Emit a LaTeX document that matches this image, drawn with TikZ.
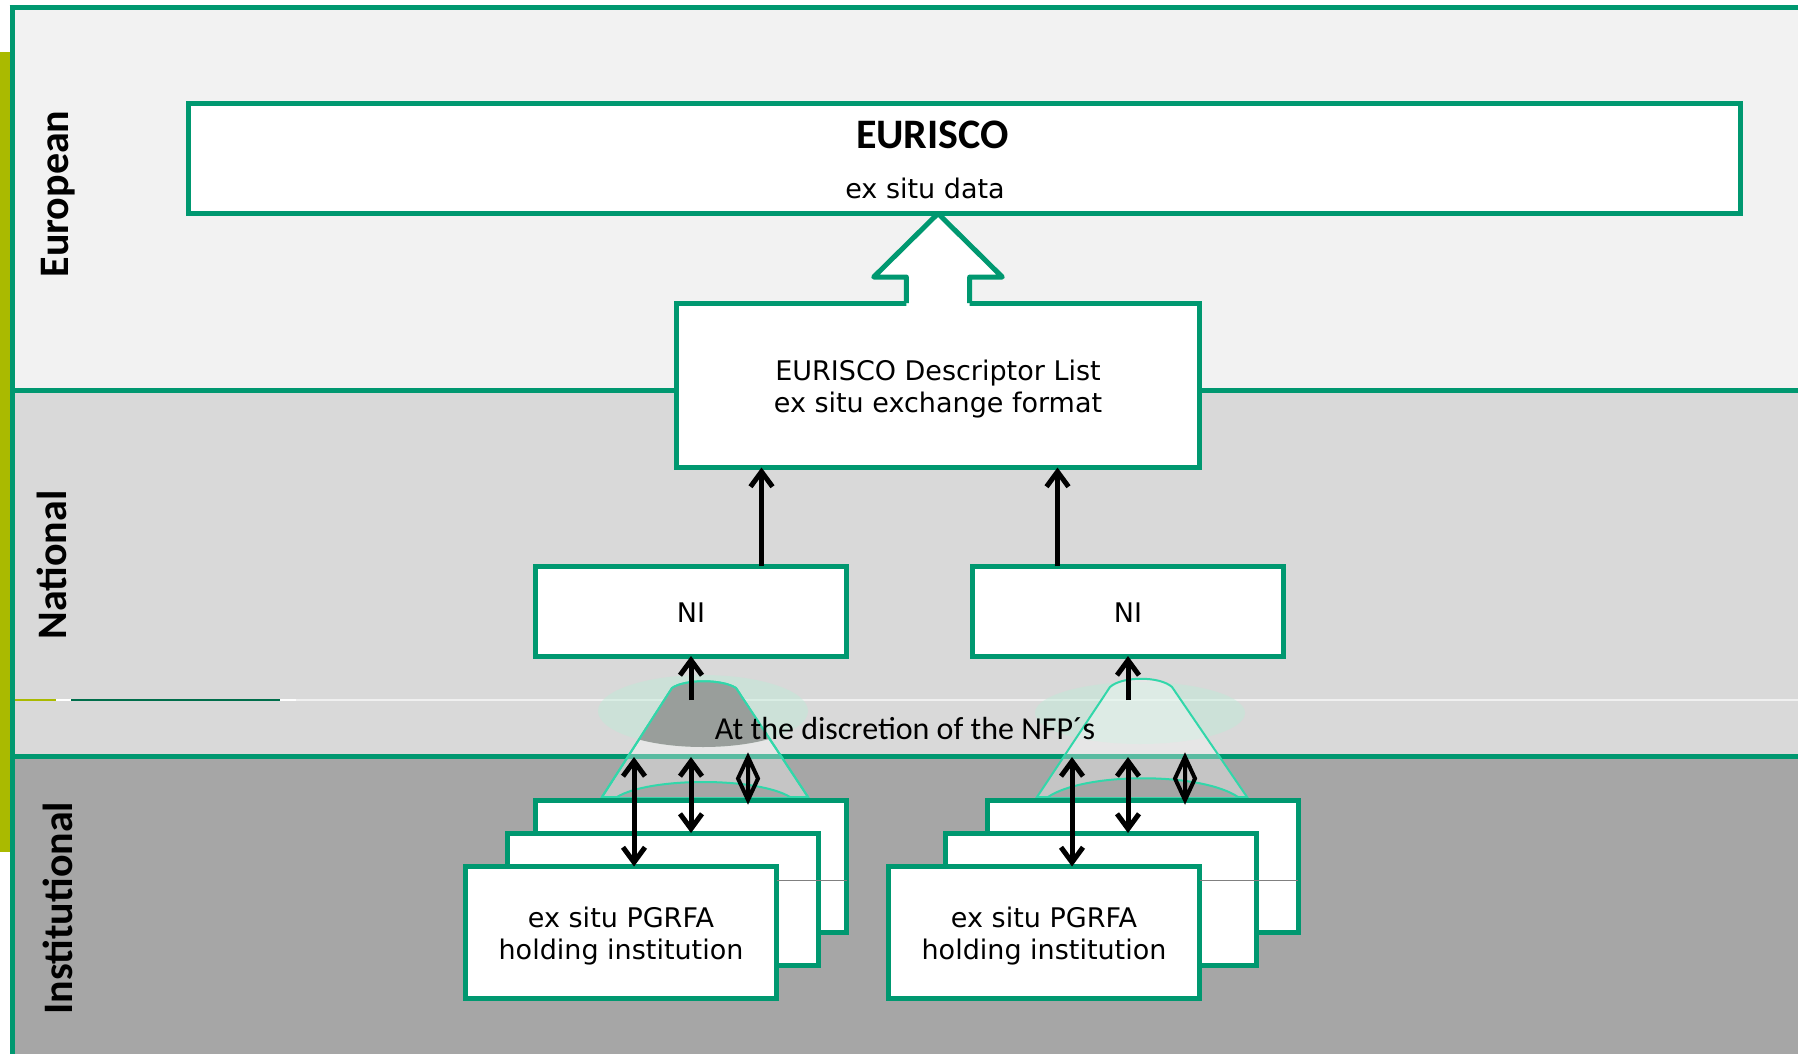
\documentclass[tikz,border=0pt]{standalone}
\usepackage{fontspec}
\newfontfamily\boxfont{DejaVu Sans}
\newfontfamily\labelfont{Carlito}
\usetikzlibrary{calc,arrows.meta}

\definecolor{frameGreen}{RGB}{0,152,112}
\definecolor{barYellow}{RGB}{170,186,0}
\definecolor{darkLine}{RGB}{0,110,75}
\definecolor{euroBand}{RGB}{242,242,242}
\definecolor{natBand}{RGB}{217,217,217}
\definecolor{instBand}{RGB}{166,166,166}
\definecolor{coneCyan}{RGB}{50,215,170}
\definecolor{coneDark}{RGB}{153,158,155}
\definecolor{coneGlow}{RGB}{190,235,215}

\begin{document}
\begin{tikzpicture}[every node/.style={outer sep=0pt,inner sep=0pt},>={Straight Barb[length=15pt,width=22pt]}]

\tikzstyle{box}=[draw=frameGreen,line width=5pt,fill=white]
\tikzstyle{inst}=[box,minimum width=311pt,minimum height=132pt]
\tikzstyle{boxtext}=[font=\boxfont\fontsize{27}{32}\selectfont,align=center]
\tikzstyle{sidelabel}=[rotate=90,anchor=base,font=\labelfont\bfseries\fontsize{42}{50}\selectfont]
\tikzstyle{bandline}=[draw=frameGreen,line width=5pt]
\tikzstyle{link}=[line width=5pt,black]
\tikzstyle{diamondlink}=[line width=4pt,black,line join=miter]
\tikzstyle{cone}=[fill=white,fill opacity=.35,draw=coneCyan,line width=2pt]
\tikzstyle{glow}=[fill=coneGlow,fill opacity=.45]

\useasboundingbox (0,0) rectangle (1798pt,-1054pt);
\fill[white] (0,0) rectangle (1798pt,-1054pt);

\fill[euroBand] (12pt,-8pt) rectangle (1798pt,-390pt);
\fill[natBand] (12pt,-390pt) rectangle (1798pt,-756pt);
\fill[instBand] (12pt,-756pt) rectangle (1798pt,-1054pt);
\fill[barYellow] (0,-52pt) rectangle (9.5pt,-852pt);

\coordinate (nfp) at (0,-700pt);
\coordinate (natinst) at (0,-757pt);

\draw[line width=1.2pt,white!94!black] (14pt,-700pt) -- (1798pt,-700pt);
\draw[line width=1.2pt,barYellow] (14pt,-700pt) -- (56pt,-700pt);
\draw[line width=1.2pt,white] (56pt,-700pt) -- (71pt,-700pt);
\draw[line width=1.2pt,darkLine] (71pt,-700pt) -- (280pt,-700pt);
\draw[line width=1.2pt,white] (280pt,-700pt) -- (296pt,-700pt);

\draw[bandline] (9.5pt,-8pt) -- (1798pt,-8pt);
\draw[bandline] (12pt,-5.5pt) -- (12pt,-1054pt);
\draw[bandline] (12pt,-390.5pt) -- (1798pt,-390.5pt);
\draw[bandline] (12pt,-756pt) -- (1798pt,-756pt);

\node[sidelabel] (european) at (68pt,-194pt) {European};
\node[sidelabel] (national) at (66pt,-565pt) {National};
\node[sidelabel] (institutional) at (72pt,-908pt) {Institutional};

\fill[glow] (703pt,-711pt) ellipse (105pt and 36pt);
\filldraw[cone] (602pt,-797pt) -- (672pt,-688pt) .. controls (685pt,-679pt) and (722pt,-679pt) .. (736pt,-688pt) -- (808pt,-797pt) -- cycle;
\begin{scope}
\clip (602pt,-797pt) -- (672pt,-688pt) .. controls (685pt,-679pt) and (722pt,-679pt) .. (736pt,-688pt) -- (808pt,-797pt) -- cycle;
\fill[coneDark] (703pt,-711pt) ellipse (105pt and 36pt);
\end{scope}
\draw[coneCyan,line width=2pt] (602pt,-797pt) -- (672pt,-688pt) .. controls (685pt,-679pt) and (722pt,-679pt) .. (736pt,-688pt) -- (808pt,-797pt);
\fill[instBand] (617pt,-797pt) .. controls (650pt,-777pt) and (757pt,-777pt) .. (790pt,-797pt) -- cycle;
\draw[coneCyan,line width=2pt] (617pt,-797pt) .. controls (650pt,-777pt) and (757pt,-777pt) .. (790pt,-797pt);

\fill[glow] (1140pt,-713pt) ellipse (105pt and 31pt);
\filldraw[cone] (1037pt,-797pt) -- (1110pt,-687pt) .. controls (1122pt,-676pt) and (1160pt,-676pt) .. (1172pt,-687pt) -- (1247pt,-797pt) -- cycle;
\fill[instBand] (1048pt,-797pt) .. controls (1085pt,-772pt) and (1201pt,-772pt) .. (1238pt,-797pt) -- cycle;
\draw[coneCyan,line width=2pt] (1048pt,-797pt) .. controls (1085pt,-772pt) and (1201pt,-772pt) .. (1238pt,-797pt);

\node[anchor=base,font=\labelfont\fontsize{32}{38}\selectfont] (discretion) at (905pt,-739pt) {At the discretion of the NFP´s};

\node[box,minimum width=1552pt,minimum height=110pt] (eurisco) at (964.5pt,-158.5pt) {};
\node[anchor=base,font=\labelfont\bfseries\fontsize{42}{50}\selectfont] (eurtitle) at (932.5pt,-148pt) {EURISCO};
\node[boxtext,anchor=base] (eurdata) at (925pt,-198pt) {ex situ data};

\node[box,minimum width=523pt,minimum height=164.5pt] (desc) at (938pt,-385.25pt) {};
\node[boxtext] (desctext) at ([yshift=-3.5pt]desc.center) {EURISCO Descriptor List\\ex situ exchange format};

\coordinate (bfoot) at (desc.north);
\coordinate (btip) at (desc.north |- eurisco.south);
\fill[white] ($(bfoot)+(-31.7pt,-3pt)$) -- ($(bfoot)+(-31.7pt,26pt)$) -- ($(bfoot)+(-64.3pt,26pt)$) -- (btip) -- ($(bfoot)+(64.3pt,26pt)$) -- ($(bfoot)+(31.7pt,26pt)$) -- ($(bfoot)+(31.7pt,-3pt)$) -- cycle;
\draw[frameGreen,line width=5pt,line join=round] ($(bfoot)+(-31.7pt,0)$) -- ++(0,26pt) -- ++(-32.6pt,0) -- (btip) -- ($(bfoot)+(64.3pt,26pt)$) -- ++(-32.6pt,0) -- ++(0,-26pt);

\node[box,minimum width=311.5pt,minimum height=90pt] (ni1) at (691pt,-611pt) {};
\node[boxtext] (ni1text) at ([yshift=-2pt]ni1.center) {NI};
\node[box,minimum width=311pt,minimum height=90pt] (ni2) at (1128pt,-611pt) {};
\node[boxtext] (ni2text) at ([yshift=-2pt]ni2.center) {NI};

\draw[link,->] ([xshift=70.5pt]ni1.north) -- ([xshift=70.5pt]ni1.north |- desc.south);
\draw[link,->] ([xshift=-70.5pt]ni2.north) -- ([xshift=-70.5pt]ni2.north |- desc.south);

\node[inst] (back1) at (691pt,-866pt) {};
\node[inst] (mid1) at (663pt,-899pt) {};
\node[inst] (front1) at (621pt,-932.5pt) {};
\node[boxtext] (front1text) at ([yshift=-3.5pt]front1.center) {ex situ PGRFA\\holding institution};

\node[inst] (back2) at (1142.5pt,-866pt) {};
\node[inst] (mid2) at (1100.5pt,-899pt) {};
\node[inst] (front2) at (1044pt,-932.5pt) {};
\node[boxtext] (front2text) at ([yshift=-3.5pt]front2.center) {ex situ PGRFA\\holding institution};

\draw[gray,line width=0.8pt] ([yshift=-14pt]back1.east -| front1.east) -- ([yshift=-14pt]back1.east);
\draw[gray,line width=0.8pt] ([yshift=-14pt]back2.east -| front2.east) -- ([yshift=-14pt]back2.east);

\coordinate (up1) at ([xshift=13pt]front1.north);
\coordinate (dia1) at ([xshift=57pt]back1.north);
\coordinate (dia1top) at (dia1 |- natinst);
\draw[link,<->] (up1 |- natinst) -- (up1);
\draw[link,<->] (ni1.south |- natinst) -- (ni1.south |- mid1.north);
\draw[diamondlink] (dia1top) -- ($(dia1top)!.5!(dia1)+(10pt,0)$) -- (dia1) -- ($(dia1top)!.5!(dia1)-(10pt,0)$) -- cycle (dia1top) -- (dia1);
\draw[link,->] (ni1.south |- nfp) -- (ni1.south);

\coordinate (up2) at ([xshift=28pt]front2.north);
\coordinate (dia2) at ([xshift=42.5pt]back2.north);
\coordinate (dia2top) at (dia2 |- natinst);
\draw[link,<->] (up2 |- natinst) -- (up2);
\draw[link,<->] (ni2.south |- natinst) -- (ni2.south |- mid2.north);
\draw[diamondlink] (dia2top) -- ($(dia2top)!.5!(dia2)+(10pt,0)$) -- (dia2) -- ($(dia2top)!.5!(dia2)-(10pt,0)$) -- cycle (dia2top) -- (dia2);
\draw[link,->] (ni2.south |- nfp) -- (ni2.south);

\end{tikzpicture}
\end{document}
